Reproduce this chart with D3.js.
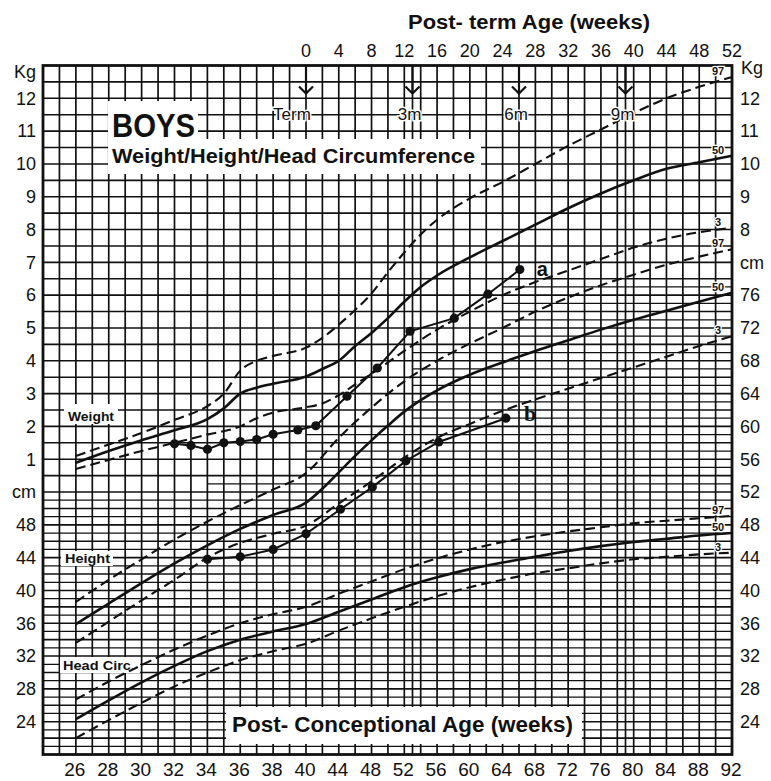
<!DOCTYPE html>
<html>
<head>
<meta charset="utf-8">
<script src="https://cdn.jsdelivr.net/npm/d3@7"></script>
<style>
  body { margin: 0; background: #fff; }
  svg { display: block; font-family: "Liberation Sans", Arial, sans-serif; }
</style>
</head>
<body>
<div id="chart"></div>
<script>
// ── DATA ────────────────────────────────────────────────────────────────
// post-conceptional age (weeks) -> value ; weights in kg, lengths in cm
const weight97 = [[26,1.1],[28,1.45],[30,1.8],[32,2.2],[34,2.62],[35,3.0],[36,3.7],[37,4.0],[38,4.15],[40,4.4],[42,4.7],[44,5.1],[46,5.55],[48,6.05],[50,6.7],[52,7.3],[54,7.85],[56,8.3],[60,8.95],[64,9.45],[68,10.0],[72,10.55],[76,11.05],[80,11.55],[84,12.0],[88,12.35],[92,12.65]];
const weight50 = [[26,0.89],[28,1.25],[30,1.58],[32,1.88],[34,2.22],[35,2.55],[36,3.0],[37,3.18],[38,3.3],[40,3.52],[42,3.75],[44,4.0],[46,4.45],[48,4.85],[50,5.3],[52,5.8],[54,6.25],[56,6.6],[60,7.15],[64,7.65],[68,8.15],[72,8.65],[76,9.1],[80,9.5],[84,9.85],[88,10.05],[92,10.25]];
const weight3  = [[26,0.7],[28,0.98],[30,1.25],[32,1.5],[34,1.75],[36,2.0],[37,2.25],[38,2.42],[40,2.58],[42,2.7],[44,2.95],[46,3.28],[48,3.6],[50,3.95],[52,4.3],[56,4.95],[60,5.5],[64,6.0],[68,6.4],[72,6.75],[76,7.1],[80,7.45],[84,7.72],[88,7.92],[92,8.05]];

const height97 = [[26,38.6],[28,41.3],[30,43.8],[32,46.2],[34,48.4],[36,50.4],[38,52.3],[40,54.3],[44,58.6],[48,62.3],[52,65.5],[56,68.0],[60,70.1],[64,72.0],[68,74.0],[72,75.7],[76,77.2],[80,78.5],[84,79.7],[88,80.7],[92,81.6]];
const height50 = [[26,35.9],[28,38.4],[30,40.9],[32,43.3],[34,45.5],[36,47.5],[38,49.2],[40,50.7],[42,52.4],[44,54.4],[46,56.4],[48,58.3],[50,60.1],[52,61.8],[54,63.2],[56,64.4],[60,66.3],[64,67.8],[68,69.2],[72,70.5],[76,71.8],[80,73.0],[84,74.1],[88,75.2],[92,76.3]];
const height3  = [[26,33.6],[28,36.2],[30,38.8],[32,41.3],[34,44.0],[36,45.8],[38,46.9],[40,47.9],[44,50.6],[48,53.3],[52,56.2],[56,58.6],[60,60.3],[64,61.9],[68,63.3],[72,64.6],[76,65.9],[80,67.2],[84,68.5],[88,69.8],[92,71.0]];

const head97 = [[26,26.7],[28,28.9],[30,30.9],[32,32.8],[34,34.5],[36,36.0],[38,37.1],[40,38.0],[44,39.6],[48,41.1],[52,42.6],[56,43.9],[60,45.0],[64,45.9],[68,46.6],[72,47.2],[76,47.7],[80,48.2],[84,48.5],[88,48.8],[92,49.1]];
const head50 = [[26,24.3],[28,26.6],[30,28.8],[32,30.8],[34,32.6],[36,34.0],[38,35.0],[40,35.9],[44,37.4],[48,38.9],[52,40.4],[56,41.6],[60,42.6],[64,43.4],[68,44.1],[72,44.8],[76,45.4],[80,45.9],[84,46.3],[88,46.7],[92,47.0]];
const head3  = [[26,22.0],[28,24.2],[30,26.3],[32,28.3],[34,30.0],[36,31.5],[38,32.6],[40,33.5],[44,35.1],[48,36.6],[52,38.0],[56,39.3],[60,40.4],[64,41.3],[68,42.1],[72,42.7],[76,43.3],[80,43.8],[84,44.1],[88,44.4],[92,44.6]];

// the plotted baby: a = weight (kg), b = length (cm)
const babyWeight = [[32,1.47],[33,1.42],[34,1.3],[35,1.5],[36,1.54],[37,1.6],[38,1.76],[39.5,1.89],[41.2,2.02],[45,2.92],[48.7,3.78],[52.7,4.9],[58.1,5.3],[62.2,6.03],[66.1,6.78]];
const babyHeight = [[34,43.8],[36,44.1],[38,45.0],[40,46.9],[44.2,49.9],[48.1,52.6],[52.2,55.8],[56.2,58.1],[64.4,61.0]];

const pcaTicks = [26,28,30,32,34,36,38,40,44,48,52,56,60,64,68,72,76,80,84,88,92];
const postTermTicks = [0,4,8,12,16,20,24,28,32,36,40,44,48,52];
const kgTicksLeft = [12,11,10,9,8,7,6,5,4,3,2,1];
const kgTicksRight = [12,11,10,9,8];
const cmTicksLeft = [48,44,40,36,32,28,24];
const cmTicksRight = [76,72,68,64,60,56,52,48,44,40,36,32,28,24];
const months = [["Term",0],["3m",13],["6m",26],["9m",39]];

// where the fine 1 cm ruling starts, per age band [from, to, cm]
const fineRuling = [[24,34,52],[34,40,55],[40,53,60],[53,64,70],[64,92,78]];

// ── SCALES ──────────────────────────────────────────────────────────────
const W = 771, H = 781;
// age axis: 1 grid column = 1 week up to term, 2 weeks after
const x = d3.scaleLinear().domain([24, 40, 92]).range([43, 306, 732]);
// one vertical scale in cm; 1 kg = 4 cm on the sheet, 0 kg sits at 52 cm
const y = d3.scaleLinear().domain([20, 104]).range([754.5, 65.5]);
const kg = w => 52 + 4 * w;

const svg = d3.select("#chart").append("svg")
    .attr("width", W).attr("height", H)
    .attr("viewBox", `0 0 ${W} ${H}`);

const ink = "#111";

// ── GRID ────────────────────────────────────────────────────────────────
const grid = svg.append("g").attr("stroke", ink);

const vWeeks = d3.range(25, 40).concat(d3.range(40, 92, 2), [53, 79]);
grid.selectAll(".v").data(vWeeks).enter().append("line")
    .attr("x1", d => x(d)).attr("x2", d => x(d))
    .attr("y1", y(104)).attr("y2", y(20))
    .attr("stroke-width", 1.7);

const hLines = [];
d3.range(21, 104).forEach(c => {
    if (c % 2 === 0) hLines.push({ c, a: 24, b: 92, w: 1.6 });
    else fineRuling.forEach(s => { if (c < s[2]) hLines.push({ c, a: s[0], b: s[1], w: 1.25 }); });
});
grid.selectAll(".h").data(hLines).enter().append("line")
    .attr("x1", d => x(d.a)).attr("x2", d => x(d.b))
    .attr("y1", d => y(d.c)).attr("y2", d => y(d.c))
    .attr("stroke-width", d => d.w);

// white label panels cut out of the grid
const panels = [[108,101,90,42],[108,139,373,35],[64,404,54,20],[61,551,52,15],[60,657,80,16],[226,707,356,37]];
svg.append("g").selectAll("rect").data(panels).enter().append("rect")
    .attr("x", d => d[0]).attr("y", d => d[1])
    .attr("width", d => d[2]).attr("height", d => d[3])
    .attr("fill", "#fff");

// frame
svg.append("rect")
    .attr("x", x(24)).attr("y", y(104))
    .attr("width", x(92) - x(24)).attr("height", y(20) - y(104))
    .attr("fill", "none").attr("stroke", ink).attr("stroke-width", 2.8);

// ── CENTILE CURVES ──────────────────────────────────────────────────────
const line = d3.line().x(d => x(d[0])).y(d => y(d[1])).curve(d3.curveMonotoneX);
const asKg = arr => arr.map(d => [d[0], kg(d[1])]);

const curves = [
    { data: asKg(weight97), p: "97" }, { data: asKg(weight50), p: "50" }, { data: asKg(weight3), p: "3" },
    { data: height97, p: "97" }, { data: height50, p: "50" }, { data: height3, p: "3" },
    { data: head97, p: "97" }, { data: head50, p: "50" }, { data: head3, p: "3" }
];

const gc = svg.append("g").attr("fill", "none").attr("stroke", ink);
gc.selectAll("path").data(curves).enter().append("path")
    .attr("d", d => line(d.data))
    .attr("stroke-width", d => d.p === "50" ? 2.6 : 2.1)
    .attr("stroke-dasharray", d => d.p === "50" ? null : "10,5");

// centile tags at the right end
svg.append("g").selectAll("text").data(curves).enter().append("text")
    .attr("x", x(92) - 14)
    .attr("y", d => y(d.data[d.data.length - 1][1]) - 2)
    .attr("text-anchor", "middle")
    .attr("font-size", 11).attr("font-weight", "bold")
    .attr("fill", ink)
    .attr("stroke", "#fff").attr("stroke-width", 2.5).attr("paint-order", "stroke")
    .text(d => d.p);

// ── BABY'S MEASUREMENTS ─────────────────────────────────────────────────
const dotLine = d3.line().x(d => x(d[0])).y(d => y(d[1]));
const series = [asKg(babyWeight), babyHeight];

svg.append("g").selectAll("path").data(series).enter().append("path")
    .attr("d", dotLine).attr("fill", "none")
    .attr("stroke", ink).attr("stroke-width", 2);

series.forEach(s => {
    svg.append("g").selectAll("circle").data(s).enter().append("circle")
        .attr("cx", d => x(d[0])).attr("cy", d => y(d[1])).attr("r", 4.6)
        .attr("fill", ink);
});

const lastA = asKg(babyWeight)[babyWeight.length - 1];
const lastB = babyHeight[babyHeight.length - 1];
svg.append("text").attr("x", x(lastA[0]) + 17).attr("y", y(lastA[1]) + 6)
    .attr("font-size", 20).attr("font-weight", "bold").attr("fill", ink).text("a");
svg.append("text").attr("x", x(lastB[0]) + 18).attr("y", y(lastB[1]) + 3)
    .attr("font-family", "Liberation Serif, serif")
    .attr("font-size", 22).attr("font-weight", "bold").attr("fill", ink).text("b");

// ── MONTH MARKERS ───────────────────────────────────────────────────────
const mk = svg.append("g").attr("stroke", ink).attr("fill", "none").attr("stroke-width", 2.2);
months.forEach(([lab, wk]) => {
    const mx = x(40 + wk);
    mk.append("line").attr("x1", mx).attr("x2", mx).attr("y1", y(104)).attr("y2", y(104) + 28);
    mk.append("polyline").attr("points", `${mx - 7},${y(104) + 21} ${mx},${y(104) + 28} ${mx + 7},${y(104) + 21}`);
    svg.append("text")
        .attr("x", mx + (lab === "Term" ? -14 : -3)).attr("y", y(104) + 54)
        .attr("text-anchor", "middle").attr("font-size", 17).attr("fill", ink)
        .attr("stroke", "#fff").attr("stroke-width", 3).attr("paint-order", "stroke")
        .text(lab);
});

// ── AXIS LABELS ─────────────────────────────────────────────────────────
const txt = svg.append("g").attr("fill", ink);

txt.selectAll(".bx").data(pcaTicks).enter().append("text")
    .attr("x", d => x(d) - 1).attr("y", 776)
    .attr("text-anchor", "middle").attr("font-size", 19).text(d => d);

txt.selectAll(".tx").data(postTermTicks).enter().append("text")
    .attr("x", d => x(40 + d)).attr("y", 57)
    .attr("text-anchor", "middle").attr("font-size", 18).text(d => d);

const leftLabels = kgTicksLeft.map(w => [w, kg(w)]).concat([["cm", 52]], cmTicksLeft.map(c => [c, c]));
txt.selectAll(".ly").data(leftLabels).enter().append("text")
    .attr("x", 36).attr("y", d => y(d[1])).attr("dy", "0.35em")
    .attr("text-anchor", "end").attr("font-size", 18).text(d => d[0]);
txt.append("text").attr("x", 36).attr("y", 78).attr("text-anchor", "end")
    .attr("font-size", 18).text("Kg");

const rightLabels = kgTicksRight.map(w => [w, kg(w)]).concat([["cm", 80]], cmTicksRight.map(c => [c, c]));
txt.selectAll(".ry").data(rightLabels).enter().append("text")
    .attr("x", 740).attr("y", d => y(d[1])).attr("dy", "0.35em")
    .attr("font-size", 18).text(d => d[0]);
txt.append("text").attr("x", 741).attr("y", 74).attr("font-size", 18).text("Kg");

// ── TITLES ──────────────────────────────────────────────────────────────
const bold = (t, px, py, size, len) => txt.append("text")
    .attr("x", px).attr("y", py).attr("font-size", size).attr("font-weight", "bold")
    .attr("textLength", len).attr("lengthAdjust", "spacingAndGlyphs").text(t);

bold("Post- term Age (weeks)", 408, 29, 20, 242);
bold("Post- Conceptional Age (weeks)", 232, 732, 22, 341);
bold("BOYS", 112, 137, 33, 83);
bold("Weight/Height/Head Circumference", 112, 163, 20, 363);
bold("Weight", 68, 421, 13, 46);
bold("Height", 65, 563, 13, 45);
bold("Head Circ.", 63, 670, 13, 72);
</script>
</body>
</html>
